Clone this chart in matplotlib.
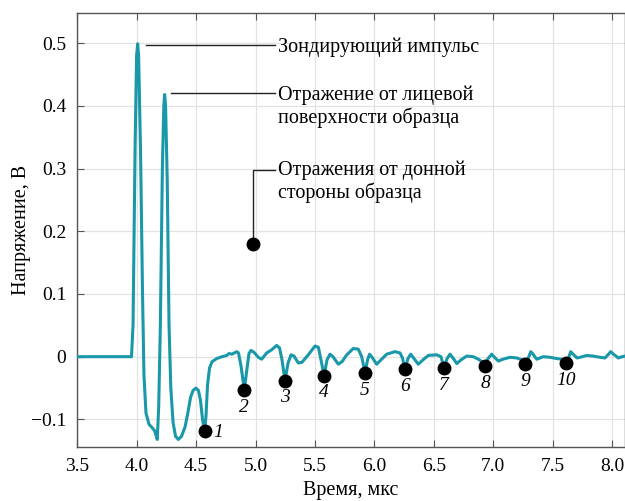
import numpy as np
import matplotlib.pyplot as plt

plt.rcParams['font.family'] = ['Liberation Serif', 'DejaVu Serif']
plt.rcParams['mathtext.fontset'] = 'stix'

# сигнал (время в мкс, напряжение в В)
t = [3.500, 3.956, 3.969, 3.986, 3.999, 4.008, 4.016, 4.032, 4.049, 4.061,
     4.078, 4.104, 4.129, 4.150, 4.162, 4.173, 4.185, 4.199, 4.216, 4.228,
     4.235, 4.243, 4.257, 4.272, 4.287, 4.306, 4.327, 4.350, 4.377, 4.407,
     4.432, 4.453, 4.474, 4.499, 4.520, 4.537, 4.554, 4.571, 4.583, 4.596,
     4.613, 4.634, 4.673, 4.718, 4.758, 4.777, 4.802, 4.842, 4.857, 4.878,
     4.906, 4.924, 4.945, 4.962, 4.987, 5.024, 5.052, 5.094, 5.136, 5.178,
     5.202, 5.223, 5.248, 5.274, 5.299, 5.324, 5.360, 5.391, 5.444, 5.501,
     5.529, 5.551, 5.577, 5.602, 5.627, 5.652, 5.697, 5.728, 5.768, 5.823,
     5.865, 5.894, 5.922, 5.943, 5.960, 5.985, 6.020, 6.062, 6.104, 6.174,
     6.216, 6.237, 6.258, 6.283, 6.306, 6.334, 6.370, 6.410, 6.455, 6.525,
     6.561, 6.587, 6.612, 6.637, 6.662, 6.694, 6.730, 6.778, 6.833, 6.875,
     6.907, 6.932, 6.957, 6.988, 7.012, 7.044, 7.083, 7.142, 7.199, 7.241,
     7.269, 7.294, 7.317, 7.336, 7.367, 7.423, 7.479, 7.535, 7.577, 7.614,
     7.635, 7.653, 7.673, 7.706, 7.731, 7.788, 7.841, 7.900, 7.942, 7.967,
     7.990, 8.013, 8.054, 8.085, 8.110]
v = [0.000, 0.000, 0.050, 0.330, 0.480, 0.499, 0.480, 0.330, 0.100, -0.030,
     -0.090, -0.108, -0.113, -0.118, -0.125, -0.132, -0.080, 0.050, 0.300, 0.400,
     0.418, 0.400, 0.280, 0.050, -0.050, -0.105, -0.127, -0.132, -0.127, -0.112,
     -0.088, -0.065, -0.054, -0.050, -0.054, -0.070, -0.100, -0.119, -0.095, -0.045,
     -0.018, -0.008, -0.003, 0.000, 0.002, 0.005, 0.004, 0.008, 0.006, -0.015,
     -0.053, -0.025, 0.005, 0.010, 0.007, -0.001, -0.004, 0.006, 0.011, 0.018,
     0.014, -0.005, -0.038, -0.010, 0.003, 0.001, -0.010, -0.009, 0.003, 0.017,
     0.015, -0.005, -0.030, -0.005, 0.004, 0.000, -0.012, -0.008, 0.003, 0.013,
     0.012, 0.000, -0.026, -0.005, 0.004, -0.002, -0.012, -0.004, 0.004, 0.008,
     0.006, -0.002, -0.020, -0.003, 0.004, -0.003, -0.012, -0.005, 0.002, 0.003,
     0.000, -0.018, -0.003, 0.004, -0.002, -0.011, -0.005, 0.001, 0.000, -0.004,
     -0.008, -0.015, -0.003, 0.004, -0.001, -0.007, -0.004, -0.001, -0.002, -0.005,
     -0.012, -0.003, 0.008, 0.004, -0.004, 0.000, -0.001, -0.003, -0.004, -0.010,
     -0.002, 0.008, 0.004, -0.002, -0.001, 0.002, 0.001, -0.001, -0.002, 0.003,
     0.008, 0.004, -0.002, 0.000, 0.001]

# отражения от донной стороны
echo_t = [4.571, 4.906, 5.248, 5.577, 5.922, 6.258, 6.587, 6.932, 7.269, 7.614]
echo_v = [-0.119, -0.053, -0.038, -0.030, -0.026, -0.020, -0.018, -0.015, -0.012, -0.010]
echo_lbl = ['1', '2', '3', '4', '5', '6', '7', '8', '9', '10']

xticks = [3.5, 4.0, 4.5, 5.0, 5.5, 6.0, 6.5, 7.0, 7.5, 8.0]
yticks = [-0.1, 0, 0.1, 0.2, 0.3, 0.4, 0.5]
ytick_lbl = ['\u22120.1', '0', '0.1', '0.2', '0.3', '0.4', '0.5']

fig = plt.figure(figsize=(6.25, 5.01), dpi=100)
ax = fig.add_axes([0.1237, 0.1078, 0.8763, 0.8662])

ax.plot(t, v, color='#1898a8', lw=2.2, solid_joinstyle='round', zorder=3)
ax.plot(echo_t, echo_v, 'o', color='black', ms=9, zorder=4)
for i, (x, y, s) in enumerate(zip(echo_t, echo_v, echo_lbl)):
    if i == 0:
        off, ha = (6, -1), 'left'
    else:
        off, ha = (0, -12.5), 'center'
    ax.annotate(s, (x, y), xytext=off, textcoords='offset points',
                ha=ha, va='center', fontsize=14, style='italic')

# подписи
lc = '#222222'
ax.plot([4.078, 5.165], [0.4976, 0.4976], color=lc, lw=1.0, zorder=2)
ax.text(5.189, 0.494, 'Зондирующий импульс', fontsize=14.5, va='center', ha='left')
ax.plot([4.289, 5.165], [0.421, 0.421], color=lc, lw=1.0, zorder=2)
ax.text(5.189, 0.399, 'Отражение от лицевой\nповерхности образца', fontsize=14.5,
        va='center', ha='left', linespacing=1.15)
ax.plot([4.979, 4.979, 5.165], [0.1797, 0.298, 0.298], color=lc, lw=1.0, zorder=2)
ax.plot([4.979], [0.1797], 'o', color='black', ms=9, zorder=4)
ax.text(5.189, 0.2796, 'Отражения от донной\nстороны образца', fontsize=14.5,
        va='center', ha='left', linespacing=1.15)

ax.set_xlim(3.5, 8.11)
ax.set_ylim(-0.144, 0.548)
ax.set_xticks(xticks)
ax.set_xticklabels(['%.1f' % x for x in xticks])
ax.set_yticks(yticks)
ax.set_yticklabels(ytick_lbl)
ax.tick_params(direction='in', top=True, right=False, labelsize=14, length=5,
               color='#555555', pad=8)
ax.grid(True, color='#e3e3e3', lw=0.9)
ax.set_axisbelow(True)
for s in ax.spines.values():
    s.set_color('#555555')
    s.set_linewidth(1.0)

ax.set_xlabel('Время, мкс', fontsize=14.5, labelpad=4)
ax.set_ylabel('Напряжение, В', fontsize=14.5, labelpad=0)

fig.savefig('out.png', dpi=100)
